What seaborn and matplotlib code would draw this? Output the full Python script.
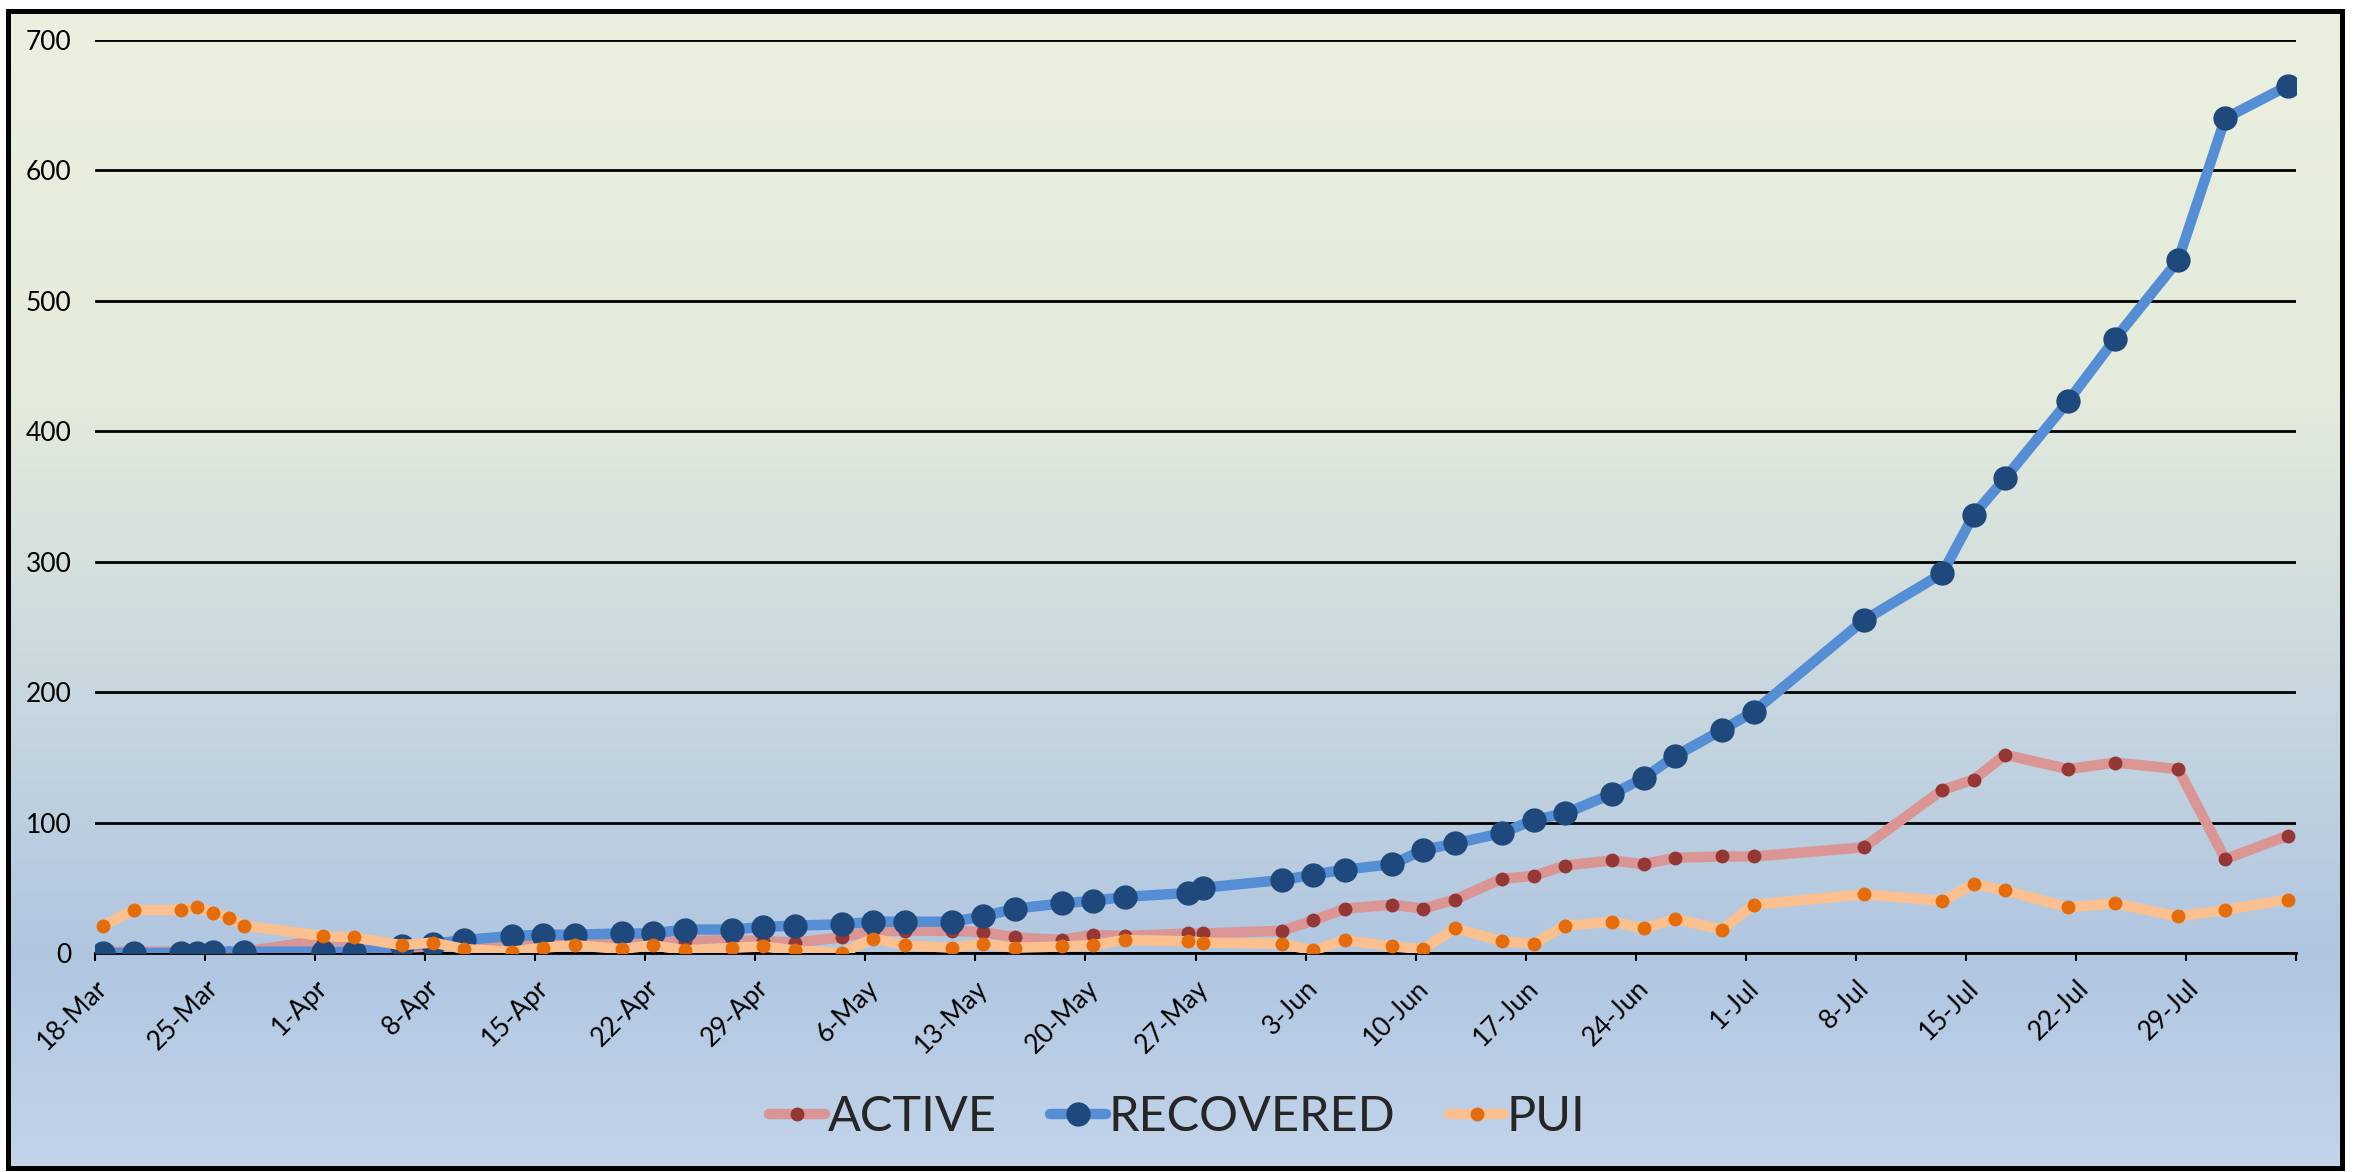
import numpy as np
import pandas as pd
import matplotlib
matplotlib.use("Agg")
import matplotlib.pyplot as plt
from matplotlib.patches import Rectangle
from matplotlib.colors import LinearSegmentedColormap
import seaborn as sns

# ---------------- data ----------------
dates = ["2020-03-18", "2020-03-20", "2020-03-23", "2020-03-24", "2020-03-25", "2020-03-26", "2020-03-27",
         "2020-04-01", "2020-04-03", "2020-04-06", "2020-04-08", "2020-04-10", "2020-04-13", "2020-04-15",
         "2020-04-17", "2020-04-20", "2020-04-22", "2020-04-24", "2020-04-27", "2020-04-29",
         "2020-05-01", "2020-05-04", "2020-05-06", "2020-05-08", "2020-05-11", "2020-05-13", "2020-05-15",
         "2020-05-18", "2020-05-20", "2020-05-22", "2020-05-26", "2020-05-27",
         "2020-06-01", "2020-06-03", "2020-06-05", "2020-06-08", "2020-06-10", "2020-06-12", "2020-06-15",
         "2020-06-17", "2020-06-19", "2020-06-22", "2020-06-24", "2020-06-26", "2020-06-29",
         "2020-07-01", "2020-07-08", "2020-07-13", "2020-07-15", "2020-07-17", "2020-07-21", "2020-07-24",
         "2020-07-28", "2020-07-31", "2020-08-04"]

active = [1, 1, 1, 1, 1, 0, 1,
          10, 9, 4, 5, 6, 7, 8,
          8, 7, 8, 9, 10, 9,
          8, 12, 17, 17, 17, 16, 12,
          10, 14, 13, 15, 15,
          17, 25, 34, 37, 34, 41, 57,
          59, 67, 71, 68, 73, 74,
          74, 81, 125, 133, 152, 141, 146,
          141, 72, 90]

recovered = [0, 0, 0, 0, 1, np.nan, 1,
             1, 1, 5, 7, 10, 13, 14,
             14, 15, 15, 18, 18, 20,
             21, 22, 24, 24, 24, 28, 34,
             38, 40, 43, 46, 50,
             56, 60, 64, 68, 79, 84, 92,
             102, 107, 122, 134, 151, 171,
             185, 255, 291, 336, 364, 423, 471,
             531, 640, 665]

pui = [21, 33, 33, 35, 31, 27, 21,
       13, 12, 6, 8, 3, 1, 4,
       6, 3, 6, 2, 4, 5,
       2, 0, 11, 6, 4, 7, 4,
       5, 6, 10, 9, 8,
       7, 2, 10, 5, 3, 19, 9,
       7, 21, 24, 19, 26, 18,
       37, 45, 40, 53, 48, 35, 38,
       28, 33, 41]

tick_labels = ["18-Mar", "25-Mar", "1-Apr", "8-Apr", "15-Apr", "22-Apr", "29-Apr", "6-May",
               "13-May", "20-May", "27-May", "3-Jun", "10-Jun", "17-Jun", "24-Jun", "1-Jul",
               "8-Jul", "15-Jul", "22-Jul", "29-Jul", ""]
y_ticks = [0, 100, 200, 300, 400, 500, 600, 700]

series_names = ["ACTIVE", "RECOVERED", "PUI"]

# ---------------- figure ----------------
W, H = 2355, 1172
DPI = 100
sns.set_theme(style="white")
plt.rcParams["font.family"] = ["Lato", "DejaVu Sans"]

fig = plt.figure(figsize=(W / DPI, H / DPI), dpi=DPI)
fig.patch.set_facecolor("white")

# gradient background inside border
bx0, by0, bx1, by1 = 8, 11, 2342, 1168  # pixel box (top-left origin)
bg_ax = fig.add_axes([bx0 / W, 1 - by1 / H, (bx1 - bx0) / W, (by1 - by0) / H], zorder=0)
stops = [(0.0, "#EBF0DF"), (0.33, "#E4EBDB"), (0.58, "#C9D8DF"), (0.82, "#B0C6E1"), (1.0, "#C3D4EA")]
cmap = LinearSegmentedColormap.from_list("bg", stops)
grad = np.linspace(0, 1, 512).reshape(-1, 1)
bg_ax.imshow(grad, aspect="auto", cmap=cmap, extent=[0, 1, 1, 0], vmin=0, vmax=1)
bg_ax.set_axis_off()

fig.patches.append(Rectangle((bx0 / W, 1 - by1 / H), (bx1 - bx0) / W, (by1 - by0) / H,
                             transform=fig.transFigure, fill=False, edgecolor="black",
                             linewidth=3.6, zorder=10))

# main axes
left_px, right_px, top_px, bottom_px = 95, 2296, 40, 953
ax = fig.add_axes([left_px / W, 1 - bottom_px / H, (right_px - left_px) / W, (bottom_px - top_px) / H], zorder=1)
ax.set_facecolor("none")

df = pd.DataFrame({"date": pd.to_datetime(dates), "ACTIVE": active,
                   "RECOVERED": recovered, "PUI": pui})

styles = {
    "ACTIVE": dict(color="#D99694", mfc="#953735", ms=10),
    "RECOVERED": dict(color="#558ED5", mfc="#1F497D", ms=17.5),
    "PUI": dict(color="#FAC090", mfc="#E46C0A", ms=10),
}

for i, name in enumerate(series_names):
    st = styles[name]
    sub = df[["date", name]].dropna()
    sns.lineplot(data=sub, x="date", y=name, ax=ax, color=st["color"], linewidth=7.5,
                 marker="o", markersize=st["ms"], markerfacecolor=st["mfc"],
                 markeredgecolor=st["mfc"], markeredgewidth=0, label=name,
                 solid_joinstyle="round", solid_capstyle="round", zorder=3 + i)

# axes styling
start = pd.Timestamp("2020-03-18") - pd.Timedelta(hours=12)
tick_pos = [start + pd.Timedelta(days=7 * k) for k in range(len(tick_labels))]
ax.set_xlim(start, pd.Timestamp("2020-08-04") + pd.Timedelta(hours=12))
ax.set_xticks(tick_pos)
ax.set_xticklabels(tick_labels, rotation=45, ha="right", rotation_mode="anchor", fontsize=19)
ax.set_ylim(0, 700)
ax.set_yticks(y_ticks)
ax.set_yticklabels([str(v) for v in y_ticks], fontsize=19)
ax.set_xlabel("")
ax.set_ylabel("")

ax.yaxis.grid(True, color="black", linewidth=2, zorder=1)
ax.xaxis.grid(False)
ax.set_axisbelow(True)
for s in ["left", "right", "top"]:
    ax.spines[s].set_visible(False)
ax.spines["bottom"].set_color("black")
ax.spines["bottom"].set_linewidth(2)
ax.tick_params(axis="x", direction="out", length=6, width=1.5, color="black", pad=10, bottom=True)
ax.tick_params(axis="y", length=0, pad=17)
for lab in ax.get_xticklabels() + ax.get_yticklabels():
    lab.set_color("black")

ax.get_legend().remove()
handles, labels = ax.get_legend_handles_labels()
fig.legend(handles, labels, loc="center", bbox_to_anchor=(0.5, 1 - 1117 / H), ncol=3,
           frameon=False, fontsize=35, handlelength=1.15, handletextpad=0.05, columnspacing=1.1)

fig.savefig("out.png", dpi=DPI)
